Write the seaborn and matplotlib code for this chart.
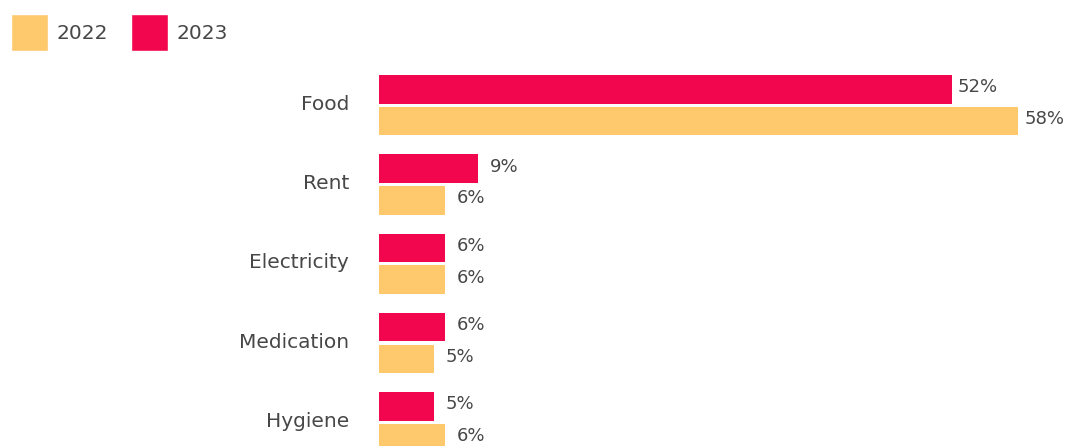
import matplotlib
matplotlib.use("Agg")
import matplotlib.pyplot as plt
import matplotlib.transforms as mtransforms
import seaborn as sns
import pandas as pd
from matplotlib.patches import Patch

categories = ["Food", "Rent", "Electricity", "Medication", "Hygiene"]
values_2022 = [58, 6, 6, 5, 6]
values_2023 = [52, 9, 6, 6, 5]
years = ["2023", "2022"]
colors = {"2023": "#F2074F", "2022": "#FEC86D"}

df = pd.DataFrame({
    "category": categories * 2,
    "year": ["2023"] * len(categories) + ["2022"] * len(categories),
    "value": values_2023 + values_2022,
})

sns.set_theme(style="white")
plt.rcParams['font.family'] = ['DejaVu Sans']
text_color = "#474747"

W, H = 1065, 446
fig = plt.figure(figsize=(W / 100, H / 100), dpi=100)
left_px = 379
ax = fig.add_axes([left_px / W, 0, 1 - left_px / W, 1])

sns.barplot(data=df, y="category", x="value", hue="year", hue_order=years,
            order=categories, palette=colors, orient="h", width=0.8, gap=0.1,
            saturation=1, linewidth=0, legend=False, ax=ax)

px_per_unit = 11.02
ax.set_xlim(0, (W - left_px) / px_per_unit)
ax.set_ylim(4.30, -1.33)

for container in ax.containers:
    for patch, val in zip(container.patches, container.datavalues):
        ax.annotate(f"{val:.0f}%",
                    xy=(patch.get_width(), patch.get_y() + patch.get_height() / 2),
                    xytext=(26 * 0.72, 1.5), textcoords="offset points",
                    ha="center", va="center", fontsize=13, color=text_color)

ax.set_xlabel("")
ax.set_ylabel("")
ax.set_xticks([])
ax.tick_params(axis="y", length=0, pad=30 * 0.72, labelsize=14.5, labelcolor=text_color)
shift = mtransforms.ScaledTranslation(0, 3 / 100, fig.dpi_scale_trans)
for lbl in ax.get_yticklabels():
    lbl.set_verticalalignment("center_baseline")
    lbl.set_transform(lbl.get_transform() + shift)
for s in ax.spines.values():
    s.set_visible(False)

handles = [Patch(facecolor=colors["2022"], label="2022"),
           Patch(facecolor=colors["2023"], label="2023")]
fs = 14.5
fs_px = fs / 0.72
hh = (37 / fs_px - 0.245) / 0.65
fig.legend(handles=handles, loc="upper left", bbox_to_anchor=(11 / W, 1 - 14 / H),
           ncol=2, frameon=False, fontsize=fs, labelcolor=text_color,
           handlelength=37 / fs_px, handleheight=hh,
           handletextpad=9 / fs_px, columnspacing=22 / fs_px,
           borderpad=0, borderaxespad=0)

fig.savefig("out.png", dpi=100)
